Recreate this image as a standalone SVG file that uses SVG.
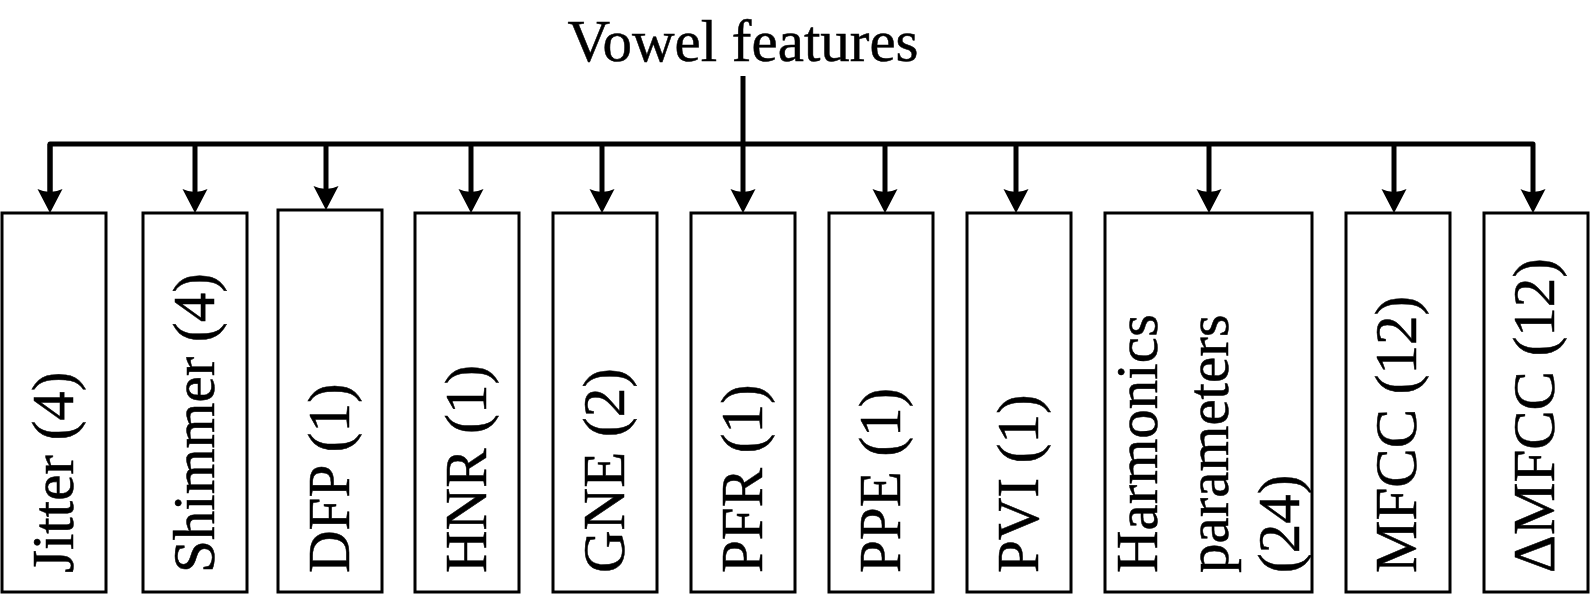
<svg xmlns="http://www.w3.org/2000/svg" width="1590" height="594" viewBox="0 0 1590 594">
<style>
.box{fill:#fff;stroke:#000;stroke-width:3}
.lbl{font-family:"Liberation Serif","Times New Roman",serif;font-size:59px;fill:#000;stroke:#000;stroke-width:0.5}
.con{fill:none;stroke:#000;stroke-width:5;stroke-linejoin:round;stroke-linecap:butt}
</style>
<defs>
<marker id="ah" markerUnits="userSpaceOnUse" refX="0" refY="0" orient="auto" overflow="visible" markerWidth="30" markerHeight="30">
<path d="M-6,-12.5 L18,0 L-6,12.5 Q0,0 -6,-12.5 Z" fill="#000"/>
</marker>
</defs>
<rect width="1590" height="594" fill="#fff"/>
<g id="title"><text class="lbl" x="743" y="61" text-anchor="middle">Vowel features</text></g>
<g id="connectors">
<path class="con" d="M743,76 V195" marker-end="url(#ah)" stroke-linecap="round"/>
<path class="con" d="M50,195 V144 H1533 V195" marker-end="url(#ah)"/>
<path class="con" d="M50,144 V195" marker-end="url(#ah)"/>
<path class="con" d="M195,144 V195" marker-end="url(#ah)"/>
<path class="con" d="M326,144 V192" marker-end="url(#ah)"/>
<path class="con" d="M471,144 V195" marker-end="url(#ah)"/>
<path class="con" d="M602,144 V195" marker-end="url(#ah)"/>
<path class="con" d="M885,144 V195" marker-end="url(#ah)"/>
<path class="con" d="M1016,144 V195" marker-end="url(#ah)"/>
<path class="con" d="M1209,144 V195" marker-end="url(#ah)"/>
<path class="con" d="M1394,144 V195" marker-end="url(#ah)"/>
</g>
<g id="jitter"><rect class="box" x="2" y="213" width="104" height="379"/><text class="lbl" transform="translate(73,573) rotate(-90)">Jitter (4)</text></g>
<g id="shimmer"><rect class="box" x="143" y="213" width="104" height="379"/><text class="lbl" transform="translate(214,573) rotate(-90)">Shimmer (4)</text></g>
<g id="dfp"><rect class="box" x="278" y="210" width="104" height="382"/><text class="lbl" transform="translate(349,573) rotate(-90)">DFP (1)</text></g>
<g id="hnr"><rect class="box" x="415" y="213" width="104" height="379"/><text class="lbl" transform="translate(486,573) rotate(-90)">HNR (1)</text></g>
<g id="gne"><rect class="box" x="553" y="213" width="104" height="379"/><text class="lbl" transform="translate(624,573) rotate(-90)">GNE (2)</text></g>
<g id="pfr"><rect class="box" x="691" y="213" width="104" height="379"/><text class="lbl" transform="translate(762,573) rotate(-90)">PFR (1)</text></g>
<g id="ppe"><rect class="box" x="829" y="213" width="104" height="379"/><text class="lbl" transform="translate(900,573) rotate(-90)">PPE (1)</text></g>
<g id="pvi"><rect class="box" x="967" y="213" width="104" height="379"/><text class="lbl" transform="translate(1038,573) rotate(-90)">PVI (1)</text></g>
<g id="harmonics"><rect class="box" x="1105" y="213" width="207" height="379"/>
<text class="lbl" transform="translate(1157,573) rotate(-90)">Harmonics</text>
<text class="lbl" transform="translate(1228,573) rotate(-90)">parameters</text>
<text class="lbl" transform="translate(1299,573) rotate(-90)">(24)</text></g>
<g id="mfcc"><rect class="box" x="1346" y="213" width="104" height="379"/><text class="lbl" transform="translate(1416,573) rotate(-90)">MFCC (12)</text></g>
<g id="dmfcc"><rect class="box" x="1484" y="213" width="104" height="379"/><text class="lbl" transform="translate(1554,573) rotate(-90)">ΔMFCC (12)</text></g>
</svg>
